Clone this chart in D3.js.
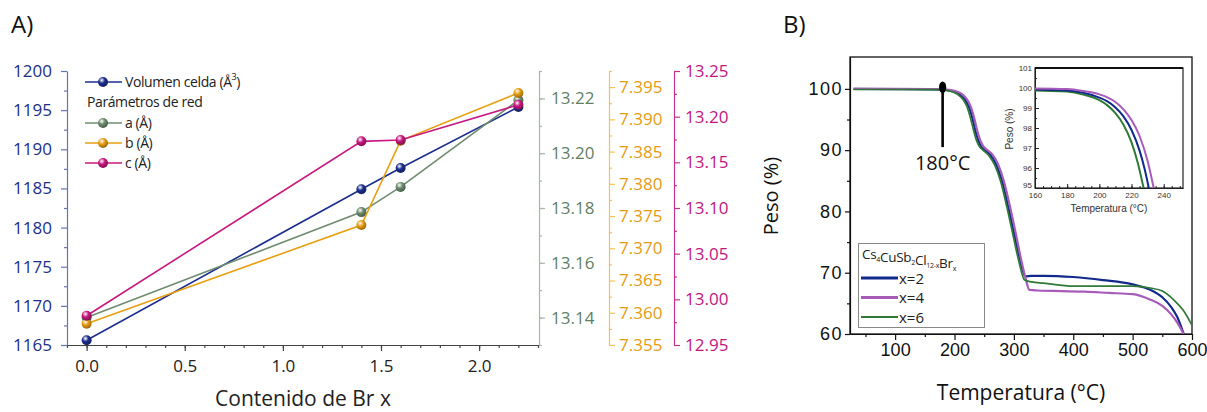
<!DOCTYPE html>
<html>
<head>
<meta charset="utf-8">
<script src="https://cdn.jsdelivr.net/npm/d3@7"></script>
<style>
    body { margin: 0; background: #fff; }
    svg { display: block; }
    text { font-family: "Open Sans", sans-serif; }
</style>
</head>
<body>
<div id="chart"></div>
<script>
// ---- Panel A: lattice parameters vs Br content ----
const brContent  = [0.0, 1.4, 1.6, 2.2];
const cellVolume = [1165.6, 1184.9, 1187.6, 1195.4];
const paramA     = [13.140, 13.1785, 13.1877, 13.2194];
const paramB     = [7.3583, 7.3736, 7.3867, 7.3941];
const paramC     = [12.982, 13.173, 13.1745, 13.213];

const brTicks  = [0.0, 0.5, 1.0, 1.5, 2.0];
const volTicks = [1165, 1170, 1175, 1180, 1185, 1190, 1195, 1200];
const aTicks   = [13.14, 13.16, 13.18, 13.20, 13.22];
const bTicks   = [7.355, 7.360, 7.365, 7.370, 7.375, 7.380, 7.385, 7.390, 7.395];
const cTicks   = [12.95, 13.00, 13.05, 13.10, 13.15, 13.20, 13.25];

// ---- Panel B: TGA curves ----
const tempX2   = [30, 100, 160, 180, 190, 200, 205, 210, 215, 220, 225, 228, 231, 235, 240, 245, 250, 260, 270, 280, 290, 300, 310, 319, 330, 350, 400, 450, 500, 530, 550, 565, 575, 586];
const weightX2 = [100, 99.97, 99.92, 99.88, 99.76, 99.52, 99.33, 99.03, 98.58, 97.9, 96.87, 96.0, 94.9, 93.2, 91.6, 90.6, 90.1, 89.3, 87.7, 85.0, 81.0, 76.6, 72.3, 69.4, 69.5, 69.5, 69.3, 68.8, 68.1, 67.2, 66.0, 64.4, 62.8, 60];
const tempX4   = [30, 100, 160, 180, 190, 200, 205, 210, 215, 220, 225, 230, 233.8, 238, 243, 248, 253, 263, 273, 283, 293, 303, 313, 320, 326, 340, 380, 420, 460, 500, 530, 550, 565, 575, 586];
const weightX4 = [100, 100, 99.98, 99.95, 99.85, 99.68, 99.53, 99.3, 98.93, 98.4, 97.6, 96.35, 95.0, 93.3, 91.7, 90.7, 90.2, 89.4, 87.8, 85.0, 81.0, 76.5, 71.8, 69.0, 67.2, 67.1, 67.0, 66.9, 66.7, 66.5, 65.6, 64.6, 63.2, 61.9, 60];
const tempX6   = [30, 100, 160, 180, 190, 200, 205, 210, 215, 220, 224, 227.5, 232, 237, 242, 248, 258, 268, 278, 288, 298, 308, 318, 330, 350, 400, 450, 500, 530, 550, 570, 585, 600];
const weightX6 = [99.9, 99.9, 99.88, 99.82, 99.67, 99.39, 99.13, 98.74, 98.16, 97.28, 96.22, 95.0, 93.3, 91.6, 90.6, 90.0, 89.1, 87.5, 84.8, 80.8, 76.4, 72.0, 68.8, 68.5, 68.3, 67.8, 67.8, 67.8, 67.5, 67.0, 65.5, 63.9, 61.4];
const seriesLabels = ["x=2", "x=4", "x=6"];
const onsetTemp = 180;

const tempTicks   = [100, 200, 300, 400, 500, 600];
const weightTicks = [60, 70, 80, 90, 100];
const insetTempTicks   = [160, 180, 200, 220, 240];
const insetWeightTicks = [95, 96, 97, 98, 99, 100, 101];


let svg = d3.select("#chart").append("svg")
    .attr("width", 1207)
    .attr("height", 412);

let defs = svg.append("defs");

// shiny ball gradient for the markers
function ballGradient(id, color) {
    let g = defs.append("radialGradient").attr("id", id)
        .attr("cx", "38%").attr("cy", "32%").attr("r", "68%");
    g.append("stop").attr("offset", "0%").attr("stop-color", "#ffffff");
    g.append("stop").attr("offset", "45%").attr("stop-color", color);
    g.append("stop").attr("offset", "100%").attr("stop-color", d3.color(color).darker(1.2));
}

// major + minor ticks on one axis
function addAxis(parent, axisFn, scale, o) {
    let g = parent.append("g").attr("transform", o.transform);
    g.append("g")
        .call(axisFn(scale).tickValues(o.minor).tickSize(o.minorSize).tickSizeOuter(0).tickFormat(""));
    let major = g.append("g")
        .call(axisFn(scale).tickValues(o.major).tickSize(o.majorSize).tickSizeOuter(0)
            .tickPadding(o.padding).tickFormat(o.format));
    major.select(".domain").remove();
    g.selectAll(".domain").attr("stroke", o.line).attr("stroke-width", o.width || 1.2);
    g.selectAll(".tick line").attr("stroke", o.line).attr("stroke-width", o.width || 1.2);
    major.selectAll("text")
        .attr("fill", o.color)
        .style("font-family", o.font || "'Open Sans', sans-serif")
        .style("font-size", o.size + "px")
        .style("letter-spacing", (o.spacing || 0) + "px");
    return major;
}

// =================== Panel A ===================
let colVol = "#1c2f8f", colA = "#6f8c6f", colB = "#e89f12", colC = "#c8187f";
ballGradient("ballVol", colVol);
ballGradient("ballA", colA);
ballGradient("ballB", colB);
ballGradient("ballC", colC);

let xA = d3.scaleLinear().domain([-0.1, 2.3]).range([67, 538]);
let yVol = d3.scaleLinear().domain([1165, 1200]).range([345, 71]);
let yPa = d3.scaleLinear().domain([13.13, 13.23]).range([345, 71]);
let yPb = d3.scaleLinear().domain([7.355, 7.3975]).range([345, 71]);
let yPc = d3.scaleLinear().domain([12.95, 13.25]).range([345, 71]);

let gA = svg.append("g");

gA.append("text").attr("x", 11).attr("y", 33)
    .style("font-size", "24px").attr("fill", "#111").text("A)");

addAxis(gA, d3.axisBottom, xA, {
    transform: "translate(0,345)", major: brTicks, minor: d3.range(-0.1, 2.31, 0.1),
    majorSize: 6, minorSize: 3, padding: 9, format: d3.format(".1f"),
    line: "#444", color: "#222", size: 17
});
addAxis(gA, d3.axisLeft, yVol, {
    transform: "translate(67,0)", major: volTicks, minor: d3.range(1167.5, 1200, 5),
    majorSize: 6, minorSize: 3, padding: 9, format: d3.format("d"),
    line: "#6675b0", color: "#1b2f86", size: 17
});
addAxis(gA, d3.axisRight, yPa, {
    transform: "translate(539,0)", major: aTicks, minor: d3.range(13.13, 13.235, 0.01),
    majorSize: 6, minorSize: 3, padding: 6, format: d3.format(".2f"),
    line: "#a6b8a6", color: "#5f7f5f", size: 17
});
addAxis(gA, d3.axisRight, yPb, {
    transform: "translate(609,0)", major: bTicks, minor: d3.range(7.3575, 7.399, 0.005),
    majorSize: 6, minorSize: 3, padding: 4, format: d3.format(".3f"),
    line: "#f2c25a", color: "#e39b12", size: 17
});
addAxis(gA, d3.axisRight, yPc, {
    transform: "translate(674,0)", major: cTicks, minor: d3.range(12.975, 13.25, 0.05),
    majorSize: 6, minorSize: 3, padding: 5, format: d3.format(".2f"),
    line: "#c2338a", color: "#c0157f", size: 17
});

gA.append("text").attr("x", 303).attr("y", 406)
    .attr("text-anchor", "middle").style("font-size", "21px").attr("fill", "#222")
    .text("Contenido de Br x");

let latticeSeries = [
    {values: cellVolume, scale: yVol, color: colVol, ball: "ballVol"},
    {values: paramA, scale: yPa, color: colA, ball: "ballA"},
    {values: paramB, scale: yPb, color: colB, ball: "ballB"},
    {values: paramC, scale: yPc, color: colC, ball: "ballC"}
];

latticeSeries.forEach(s => {
    let pts = brContent.map((x, i) => ({x: x, v: s.values[i]}));
    let line = d3.line().x(d => xA(d.x)).y(d => s.scale(d.v));
    gA.append("path").datum(pts)
        .attr("fill", "none").attr("stroke", s.color).attr("stroke-width", 1.6)
        .attr("d", line);
    gA.selectAll(null).data(pts).enter().append("circle")
        .attr("cx", d => xA(d.x)).attr("cy", d => s.scale(d.v))
        .attr("r", 5).attr("fill", "url(#" + s.ball + ")");
});

// legend A
let legA = gA.append("g").style("font-size", "14px").attr("fill", "#222");
let legRows = [
    {y: 82, s: latticeSeries[0], label: "Volumen celda (Å", sup: "3"},
    {y: 123, s: latticeSeries[1], label: "a (Å)"},
    {y: 143, s: latticeSeries[2], label: "b (Å)"},
    {y: 163, s: latticeSeries[3], label: "c (Å)"}
];
legRows.forEach(r => {
    legA.append("line").attr("x1", 85).attr("x2", 122).attr("y1", r.y).attr("y2", r.y)
        .attr("stroke", r.s.color).attr("stroke-width", 1.6);
    legA.append("circle").attr("cx", 103).attr("cy", r.y).attr("r", 5)
        .attr("fill", "url(#" + r.s.ball + ")");
    let t = legA.append("text").attr("x", 125).attr("y", r.y + 5)
        .style("letter-spacing", "-0.4px");
    t.append("tspan").text(r.label);
    if (r.sup) {
        t.append("tspan").attr("dy", -7).style("font-size", "9px").text(r.sup);
        t.append("tspan").attr("dy", 7).text(")");
    }
});
legA.append("text").attr("x", 87).attr("y", 107)
    .style("letter-spacing", "-0.4px").text("Parámetros de red");

// =================== Panel B ===================
let tgaSeries = [
    {temp: tempX2, weight: weightX2, color: "#112a8c", width: 2.2, legWidth: 3.2},
    {temp: tempX4, weight: weightX4, color: "#a65cb8", width: 2.2, legWidth: 3.2},
    {temp: tempX6, weight: weightX6, color: "#2f7a34", width: 1.7, legWidth: 2.2}
];

let xT = d3.scaleLinear().domain([24, 600]).range([850, 1192]);
let yW = d3.scaleLinear().domain([60, 105.2]).range([334, 57]);

let gB = svg.append("g");
gB.append("text").attr("x", 783).attr("y", 33)
    .style("font-size", "24px").attr("fill", "#111").text("B)");

defs.append("clipPath").attr("id", "clipMain").append("rect")
    .attr("x", 850).attr("y", 57).attr("width", 342).attr("height", 277);

addAxis(gB, d3.axisBottom, xT, {
    transform: "translate(0,334)", major: tempTicks, minor: d3.range(50, 600, 100),
    majorSize: 6, minorSize: 3, padding: 3, format: d3.format("d"),
    line: "#111", color: "#111", size: 18, font: "'Liberation Sans', Arial, sans-serif"
});
addAxis(gB, d3.axisLeft, yW, {
    transform: "translate(850,0)", major: weightTicks, minor: d3.range(65, 105, 10),
    majorSize: 5, minorSize: 3, padding: 2, format: d3.format("d"),
    line: "#111", color: "#111", size: 18, spacing: 1.5, font: "'Liberation Sans', Arial, sans-serif"
});
// frame
gB.append("rect").attr("x", 850).attr("y", 57).attr("width", 342).attr("height", 277)
    .attr("fill", "none").attr("stroke", "#111").attr("stroke-width", 1.3);

let lineT = s => d3.line().curve(d3.curveMonotoneX)
    .x((d, i) => xT(d)).y((d, i) => yW(s.weight[i]));

let mainCurves = gB.append("g").attr("clip-path", "url(#clipMain)");
tgaSeries.forEach(s => {
    mainCurves.append("path").datum(s.temp)
        .attr("fill", "none").attr("stroke", s.color).attr("stroke-width", s.width)
        .attr("d", lineT(s));
});

// onset marker
let onsetX = xT(onsetTemp);
gB.append("line").attr("x1", onsetX).attr("x2", onsetX)
    .attr("y1", yW(100)).attr("y2", yW(90.5))
    .attr("stroke", "#000").attr("stroke-width", 2.6);
gB.append("ellipse").attr("cx", onsetX).attr("cy", yW(100) - 1.5)
    .attr("rx", 3.6).attr("ry", 5.8).attr("fill", "#000");
gB.append("text").attr("x", onsetX).attr("y", 170).attr("text-anchor", "middle")
    .style("font-size", "20px").attr("fill", "#111").text(onsetTemp + "°C");

gB.append("text").attr("x", 1021).attr("y", 400).attr("text-anchor", "middle")
    .style("font-size", "21px").attr("fill", "#111").text("Temperatura (°C)");
gB.append("text").attr("transform", "translate(778,196) rotate(-90)")
    .attr("text-anchor", "middle").style("font-size", "20px").attr("fill", "#111")
    .text("Peso (%)");

// legend B
let legB = gB.append("g");
legB.append("rect").attr("x", 858.5).attr("y", 243.5).attr("width", 126).attr("height", 84)
    .attr("fill", "#fff").attr("stroke", "#888").attr("stroke-width", 1);
let title = legB.append("text").attr("x", 862).attr("y", 259)
    .style("font-size", "13.5px").attr("fill", "#222").style("letter-spacing", "-0.3px");
[["Cs", "4"], ["CuSb", "2"], ["Cl", "12-x"], ["Br", "x"]].forEach(p => {
    title.append("tspan").text(p[0]);
    title.append("tspan").attr("dy", 3).style("font-size", "7px").text(p[1]);
    title.append("tspan").attr("dy", -3).text("");
});
tgaSeries.forEach((s, i) => {
    let y = 278 + i * 19.5;
    legB.append("line").attr("x1", 861).attr("x2", 898).attr("y1", y).attr("y2", y)
        .attr("stroke", s.color).attr("stroke-width", s.legWidth);
    legB.append("text").attr("x", 899).attr("y", y + 5.5)
        .style("font-size", "15px").attr("fill", "#222").text(seriesLabels[i]);
});

// inset
let xI = d3.scaleLinear().domain([160, 252]).range([1035, 1183]);
let yI = d3.scaleLinear().domain([95, 101]).range([188, 68]);
defs.append("clipPath").attr("id", "clipInset").append("rect")
    .attr("x", 1035).attr("y", 68).attr("width", 148).attr("height", 120);

let gI = gB.append("g");
let insetFont = "'Liberation Sans', Arial, sans-serif";
addAxis(gI, d3.axisBottom, xI, {
    transform: "translate(0,188)", major: insetTempTicks, minor: d3.range(165, 252, 5),
    majorSize: -4, minorSize: -2, padding: 4, format: d3.format("d"),
    line: "#222", color: "#333", size: 8, font: insetFont, width: 1
});
let insetY = addAxis(gI, d3.axisLeft, yI, {
    transform: "translate(1035,0)", major: insetWeightTicks, minor: d3.range(95.5, 101, 1),
    majorSize: -4, minorSize: -2, padding: 3, format: d3.format("d"),
    line: "#222", color: "#333", size: 8, font: insetFont, width: 1
});
// lift the bottom label a little so it clears the x labels
insetY.selectAll(".tick text").filter(d => d === 95).attr("dy", "-0.1em");

gI.append("rect").attr("x", 1035).attr("y", 68).attr("width", 148).attr("height", 120)
    .attr("fill", "none").attr("stroke", "#222").attr("stroke-width", 1.2);
gI.append("line").attr("x1", 1035).attr("x2", 1183).attr("y1", 68).attr("y2", 68)
    .attr("stroke", "#111").attr("stroke-width", 2);

let lineI = s => d3.line().curve(d3.curveMonotoneX)
    .x(d => xI(d)).y((d, i) => yI(s.weight[i]));
let insetCurves = gI.append("g").attr("clip-path", "url(#clipInset)");
[tgaSeries[2], tgaSeries[0], tgaSeries[1]].forEach(s => {
    insetCurves.append("path").datum(s.temp)
        .attr("fill", "none").attr("stroke", s.color).attr("stroke-width", 2)
        .attr("d", lineI(s));
});

gI.append("text").attr("x", 1109).attr("y", 212).attr("text-anchor", "middle")
    .style("font-family", insetFont).style("font-size", "10px").attr("fill", "#333")
    .text("Temperatura (°C)");
gI.append("text").attr("transform", "translate(1013,129) rotate(-90)")
    .attr("text-anchor", "middle")
    .style("font-family", insetFont).style("font-size", "10px").attr("fill", "#333")
    .text("Peso (%)");
</script>
</body>
</html>
